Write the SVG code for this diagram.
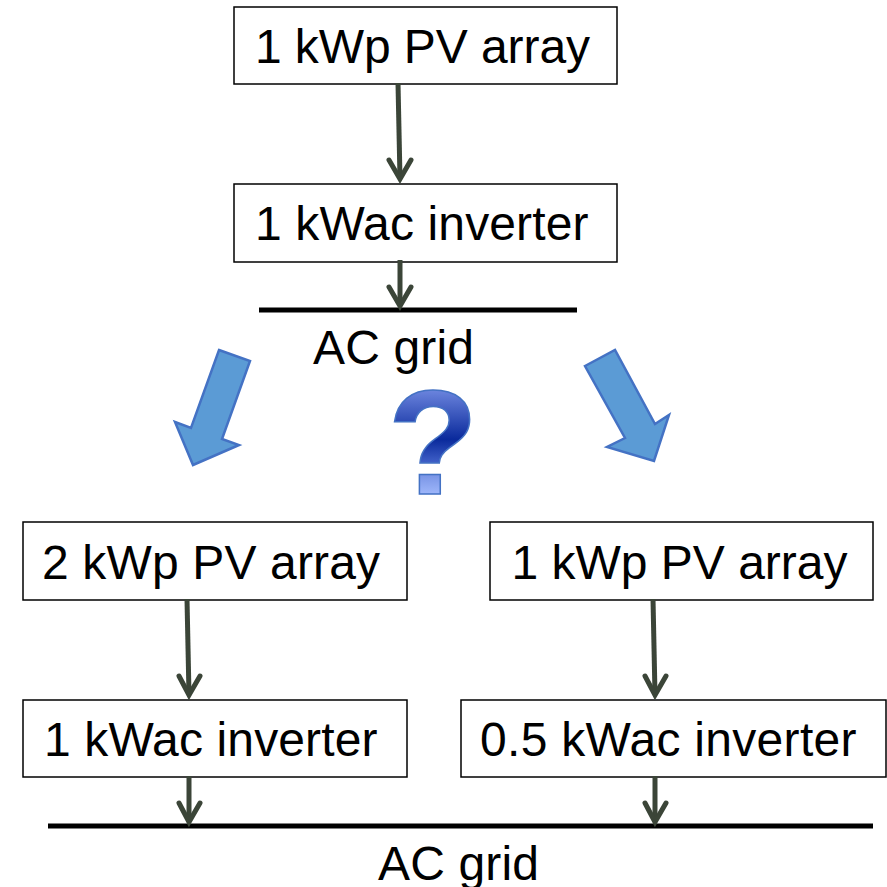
<svg xmlns="http://www.w3.org/2000/svg" width="887" height="887" viewBox="0 0 887 887">
<style>
.box{fill:#fff;stroke:#000;stroke-width:1.5}
.t{font-family:"Liberation Sans",Arial,sans-serif;font-size:48px;fill:#000}
.bus{stroke:#000;stroke-width:5;fill:none}
.c{stroke:#3b4538;stroke-width:5;fill:none}
.h{stroke:#3b4538;stroke-width:5;fill:none;stroke-linecap:round;stroke-linejoin:miter}
.big{fill:#5b9bd5;stroke:#4472c4;stroke-width:2.5}
</style>
<defs>
<linearGradient id="q" gradientUnits="userSpaceOnUse" x1="0" y1="388" x2="0" y2="495">
<stop offset="0" stop-color="#6f88e0"/>
<stop offset="0.48" stop-color="#0a2a9c"/>
<stop offset="0.74" stop-color="#4a6ad0"/>
<stop offset="0.76" stop-color="#6f8be0"/>
<stop offset="1" stop-color="#a0b8fb"/>
</linearGradient>
</defs>
<rect width="887" height="887" fill="#fff"/>
<g id="n1"><rect class="box" x="234" y="7" width="383" height="77"/><text class="t" x="255" y="63" textLength="335">1 kWp PV array</text></g>
<g id="n2"><rect class="box" x="234" y="184" width="383" height="78"/><text class="t" x="255" y="240" textLength="333.5">1 kWac inverter</text></g>
<g id="bus1"><path class="bus" d="M259 310H577"/><text class="t" x="313" y="364" textLength="161">AC grid</text></g>
<g id="n3"><rect class="box" x="23" y="522" width="384" height="78"/><text class="t" x="42" y="579" textLength="338">2 kWp PV array</text></g>
<g id="n4"><rect class="box" x="490" y="522" width="383" height="78"/><text class="t" x="511.5" y="579" textLength="336">1 kWp PV array</text></g>
<g id="n5"><rect class="box" x="23" y="700" width="384" height="77"/><text class="t" x="44" y="756" textLength="333.5">1 kWac inverter</text></g>
<g id="n6"><rect class="box" x="461" y="700" width="425" height="77"/><text class="t" x="480" y="756" textLength="376.5">0.5 kWac inverter</text></g>
<g id="bus2"><path class="bus" d="M48 826H873"/><text class="t" x="378" y="880" textLength="161">AC grid</text></g>
<g id="big-left"><path class="big" d="M219 350L250 361L222 439L239 445L193 465L175 422L191 428Z"/></g>
<g id="big-right"><path class="big" d="M585 366L615 350L655 424L669 415L654 461L607 447L625 438Z"/></g>
<g id="question"><text x="433" y="494" text-anchor="middle" font-family="Liberation Sans,Arial,sans-serif" font-weight="700" font-size="148" fill="url(#q)" stroke="#4472c4" stroke-width="1.5">?</text></g>
<g id="connectors">
<path class="c" d="M398 83L400 179"/><path class="h" d="M389 160L400 179L411 160"/>
<path class="c" d="M400 260V306"/><path class="h" d="M389 287L400 306L411 287"/>
<path class="c" d="M187 599L189 695"/><path class="h" d="M179 676L189 695L200 676"/>
<path class="c" d="M653 599L655 695"/><path class="h" d="M645 676L655 695L666 676"/>
<path class="c" d="M189 776V822"/><path class="h" d="M179 803L189 822L200 803"/>
<path class="c" d="M655 776V822"/><path class="h" d="M645 803L655 822L666 803"/>
</g>
</svg>
